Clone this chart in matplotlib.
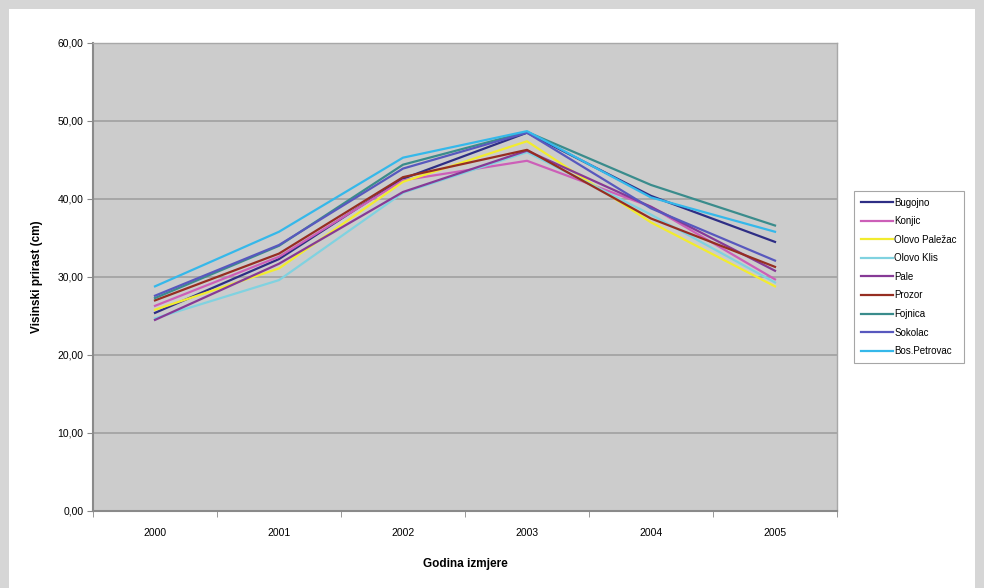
import matplotlib
matplotlib.use("Agg")
import matplotlib.pyplot as plt
from matplotlib.patches import Rectangle
import numpy as np

plt.rcParams['font.family'] = ['Liberation Sans', 'DejaVu Sans']

years = ["2000", "2001", "2002", "2003", "2004", "2005"]
series_names = ["Bugojno", "Konjic", "Olovo Paležac", "Olovo Klis", "Pale",
                "Prozor", "Fojnica", "Sokolac", "Bos.Petrovac"]
bugojno      = [25.4, 32.3, 42.6, 48.5, 40.4, 34.5]
konjic       = [26.3, 32.6, 42.4, 44.9, 39.0, 29.7]
olovo_palez  = [25.8, 31.1, 42.2, 47.4, 37.0, 28.8]
olovo_klis   = [24.7, 29.6, 40.8, 46.0, 38.0, 29.3]
pale         = [24.5, 31.7, 40.9, 46.2, 39.0, 30.8]
prozor       = [27.0, 33.0, 42.8, 46.3, 37.5, 31.3]
fojnica      = [27.3, 34.0, 44.4, 48.6, 41.8, 36.6]
sokolac      = [27.6, 34.1, 43.9, 48.5, 38.8, 32.1]
bos_petrovac = [28.8, 35.8, 45.3, 48.7, 40.2, 35.8]
y_ticks = [0, 10, 20, 30, 40, 50, 60]

values = [bugojno, konjic, olovo_palez, olovo_klis, pale, prozor, fojnica, sokolac, bos_petrovac]
colors = ["#2E2E85", "#CC5FB8", "#F2EC2E", "#80D2E0", "#863A96",
          "#962E22", "#3A8C8C", "#5858BE", "#35B8EA"]

fig = plt.figure(figsize=(9.84, 5.88), dpi=100, facecolor="#d6d6d6")
fig.patches.append(Rectangle((9/984, 0), (975-9)/984, 1 - 9/588,
                             transform=fig.transFigure, facecolor="white",
                             edgecolor="none", zorder=-10))

ax = fig.add_axes([93/984, 1 - 511/588, (837-93)/984, (511-43)/588])
ax.set_facecolor("#cccccc")
x = np.arange(len(years))
for name, vals, c in zip(series_names, values, colors):
    ax.plot(x, vals, color=c, lw=1.6, label=name, solid_joinstyle="round")

ax.set_xlim(-0.5, len(years) - 0.5)
ax.set_ylim(0, 60)
ax.set_yticks(y_ticks)
ax.set_yticklabels([f"{v:.2f}".replace(".", ",") for v in y_ticks], fontsize=7.5)
ax.set_xticks(x)
ax.set_xticklabels(years, fontsize=7.5)
ax.set_xticks(np.arange(-0.5, len(years), 1.0), minor=True)
ax.tick_params(axis="x", which="major", length=0, pad=12)
ax.tick_params(axis="x", which="minor", length=4, color="#888888")
ax.tick_params(axis="y", length=4, color="#888888", pad=3)
ax.grid(axis="y", color="#a0a0a0", lw=1.2)
ax.set_axisbelow(True)
for s in ["left", "bottom"]:
    ax.spines[s].set_color("#8a8a8a")
    ax.spines[s].set_linewidth(1.5)
for s in ["top", "right"]:
    ax.spines[s].set_color("#a8a8a8")
    ax.spines[s].set_linewidth(1.0)

ax.set_ylabel("Visinski prirast (cm)", fontsize=8.5, fontweight="bold", labelpad=10)
fig.text(465/984, 1 - 564/588, "Godina izmjere", fontsize=8.5, fontweight="bold",
         ha="center", va="center")

leg = ax.legend(loc="upper left", bbox_to_anchor=(849/984, 1 - 186/588),
                bbox_transform=fig.transFigure, fontsize=7, frameon=True,
                fancybox=False, edgecolor="#909090", handlelength=3.3,
                handletextpad=0.15, labelspacing=0.88, borderpad=0.7)
leg.get_frame().set_linewidth(0.8)

fig.savefig("out.png", dpi=100, facecolor=fig.get_facecolor())
